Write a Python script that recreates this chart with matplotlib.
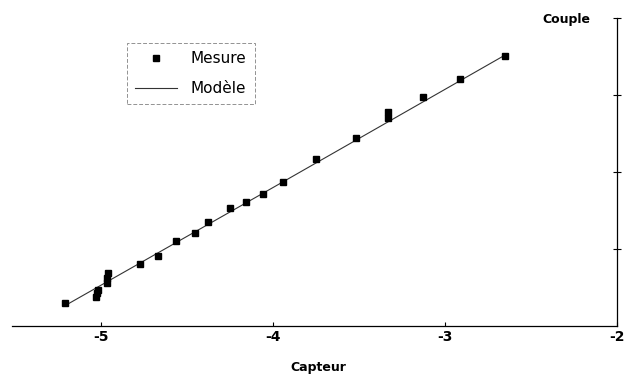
import numpy as np
import matplotlib
matplotlib.use("Agg")
import matplotlib.pyplot as plt

# Data (x = Capteur, y = Couple, arbitrary units)
mesure_x = [-5.213, -5.030, -5.025, -5.020, -4.970, -4.965, -4.960,
            -4.773, -4.669, -4.566, -4.453, -4.380, -4.250, -4.157,
            -4.060, -3.942, -3.752, -3.519, -3.335, -3.335, -3.128,
            -2.913, -2.653]
mesure_y = [0.295, 0.377, 0.429, 0.468, 0.558, 0.623, 0.688,
            0.805, 0.909, 1.104, 1.212, 1.351, 1.536, 1.610,
            1.714, 1.870, 2.169, 2.445, 2.700, 2.780, 2.970,
            3.212, 3.510]

modele_x = [-5.215, -4.000, -2.651]
modele_y = [0.260, 1.800, 3.519]

xticks = [-5, -4, -3, -2]
xtick_labels = ['-5', '-4', '-3', '-2']
yticks = [1, 2, 3, 4]

plt.rcParams['font.family'] = ['DejaVu Sans']

fig = plt.figure(figsize=(6.25, 3.78), dpi=100)
ax = fig.add_axes([12/625, 52/378, 605/625, 308/378])

ax.plot(modele_x, modele_y, color='#333333', linewidth=0.8, label='Modèle', zorder=2)
ax.plot(mesure_x, mesure_y, linestyle='none', marker='s', markersize=4,
        color='black', label='Mesure', zorder=3)

ax.set_xlim(-5.52, -2)
ax.set_ylim(0, 4)

for s in ['left', 'top']:
    ax.spines[s].set_visible(False)
ax.spines['bottom'].set_linewidth(0.9)
ax.spines['right'].set_linewidth(0.9)

ax.set_xticks(xticks)
ax.set_xticklabels(xtick_labels, fontsize=10, fontweight='bold')
ax.tick_params(axis='x', direction='in', length=3, width=0.8, pad=3)

ax.yaxis.tick_right()
ax.set_yticks(yticks)
ax.set_yticklabels([])
ax.tick_params(axis='y', direction='inout', length=6, width=0.8)

fig.text(318/625, 1 - 368/378, 'Capteur', ha='center', va='center',
         fontsize=9, fontweight='bold')
fig.text(566/625, 1 - 19/378, 'Couple', ha='center', va='center',
         fontsize=9, fontweight='bold')

handles, labels = ax.get_legend_handles_labels()
leg = ax.legend(handles[::-1], labels[::-1], loc='upper left',
                bbox_to_anchor=(115/605, 283/308), borderaxespad=0,
                fontsize=11, handlelength=2.7, handletextpad=0.9,
                labelspacing=0.95, borderpad=0.55, fancybox=False)
frame = leg.get_frame()
frame.set_edgecolor('#777777')
frame.set_linestyle((0, (4, 2)))
frame.set_linewidth(0.7)

fig.savefig('out.png', dpi=100)
